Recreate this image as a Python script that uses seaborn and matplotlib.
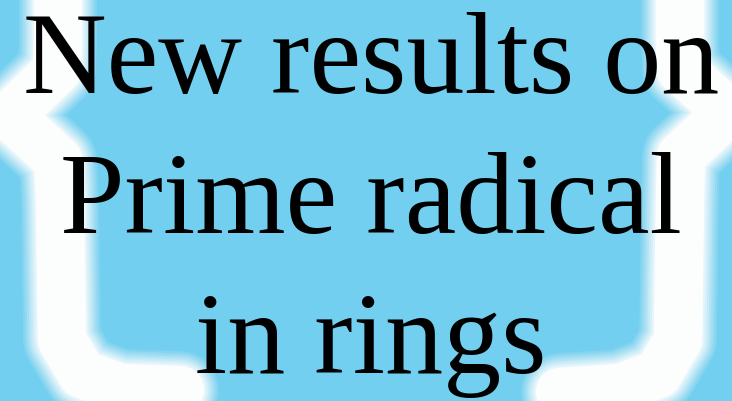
import matplotlib
matplotlib.use("Agg")
import matplotlib.pyplot as plt
import seaborn as sns
import pandas as pd

# ---- content ----
title_lines = ["New results on", "Prime radical", "in rings"]
line_baselines_px = [93, 233, 373]

# decorative brace centre lines (pixel coordinates, y downwards)
left_brace_x = [58, 58, 57, 10, 58, 60, 62, 82, 120, 180]
left_brace_y = [-20, 40, 70, 116, 160, 200, 340, 374, 388, 390]
right_brace_x = [680, 680, 681, 728, 681, 680, 678, 658, 620, 560]
right_brace_y = [-20, 40, 70, 112, 156, 200, 340, 374, 388, 392]

BG = "#73cfef"
W, H = 732, 401

sns.set_theme(style="white")
plt.rcParams["font.family"] = ["Liberation Serif", "DejaVu Serif"]

fig = plt.figure(figsize=(W / 100, H / 100), dpi=100, facecolor=BG)
ax = fig.add_axes([0, 0, 1, 1])
ax.set_facecolor(BG)

left = pd.DataFrame({"x": left_brace_x, "y": left_brace_y})
right = pd.DataFrame({"x": right_brace_x, "y": right_brace_y})

halo = [(56, 0.12), (53, 0.14), (50, 0.16), (47, 0.2), (44, 0.25), (41, 0.3), (38, 0.4)]
for df in (left, right):
    for lw, a in halo + [(35, 1.0)]:
        sns.lineplot(data=df, x="x", y="y", sort=False, estimator=None, ax=ax,
                     color="#fcfefe", linewidth=lw, alpha=a,
                     solid_joinstyle="round", solid_capstyle="round")

ax.set_xlim(0, W)
ax.set_ylim(H, 0)
ax.set_axis_off()

for txt, yb in zip(title_lines, line_baselines_px):
    fig.text(371 / W, 1 - yb / H, txt, ha="center", va="baseline",
             fontsize=83.5, color="black", family=["Liberation Serif", "DejaVu Serif"])

fig.savefig("out.png", dpi=100, facecolor=BG)
